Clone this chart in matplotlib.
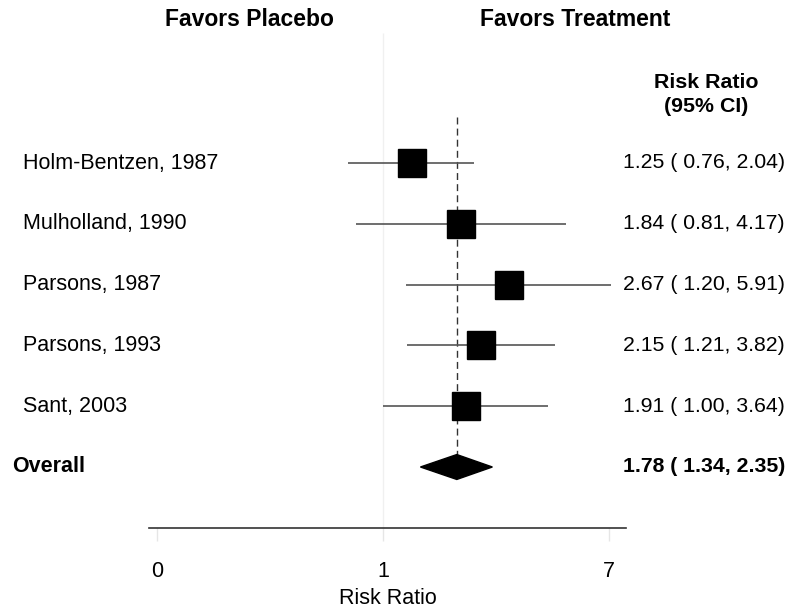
import matplotlib
matplotlib.use("Agg")
import matplotlib.pyplot as plt
import numpy as np

plt.rcParams['font.family'] = ['Liberation Sans', 'DejaVu Sans']

# ---- data ----
studies = ["Holm-Bentzen, 1987", "Mulholland, 1990", "Parsons, 1987", "Parsons, 1993", "Sant, 2003"]
rr = [1.25, 1.84, 2.67, 2.15, 1.91]
lo = [0.76, 0.81, 1.20, 1.21, 1.00]
hi = [2.04, 4.17, 5.91, 3.82, 3.64]
overall_label = "Overall"
overall_rr = 1.78
overall_lo = 1.34
overall_hi = 2.35
tick_vals = [0.171, 1.0, 5.85]
tick_labels = ["0", "1", "7"]

W, H = 800, 615
fig = plt.figure(figsize=(W / 100, H / 100), dpi=100)

# axes spans x pixels 149..626, full height
ax = fig.add_axes([149 / W, 0, (626 - 149) / W, 1])
ax.set_xscale('log')
ax.set_xlim(0.161, 6.67)
row0_px, row_px = 163, 60.8
ax.set_ylim((H - row0_px) / row_px, -row0_px / row_px)
ax.patch.set_visible(False)

# reference line at 1
ax.vlines(1.0, (33 - row0_px) / row_px, 6, color='#f0f0f0', lw=1, zorder=0)

# dashed overall line
dh = 0.205
ax.vlines(overall_rr, (117 - row0_px) / row_px, len(studies) - dh,
          color='#333333', lw=1, linestyles=(0, (5, 3)), zorder=1)

n = len(studies)
ys = np.arange(n)
ax.hlines(ys, lo, hi, color='#555555', lw=1.2, zorder=2)
ax.plot(rr, ys, 's', color='black', markersize=20, zorder=3)

# diamond
yd = n
ax.fill([overall_lo, overall_rr, overall_hi, overall_rr],
        [yd, yd - dh, yd, yd + dh], color='black', zorder=3)

# axis styling
for s in ['top', 'left', 'right']:
    ax.spines[s].set_visible(False)
ax.spines['bottom'].set_position(('data', 6))
ax.spines['bottom'].set_color('#333333')
ax.spines['bottom'].set_linewidth(1.2)
ax.set_yticks([])
ax.xaxis.set_minor_locator(matplotlib.ticker.NullLocator())
ax.set_xticks(tick_vals)
ax.set_xticklabels(tick_labels, fontsize=15.5)
ax.tick_params(axis='x', direction='out', length=9, color='#e6e6e6', width=1, pad=15)
ax.set_xlabel("Risk Ratio", fontsize=15.5, labelpad=4)

fs = 15.5
# text columns
for i, s in enumerate(studies):
    ypx = row0_px + i * row_px
    fig.text(23 / W, 1 - ypx / H, s, fontsize=fs, ha='left', va='center')
    fig.text(785 / W, 1 - ypx / H, f"{rr[i]:.2f} ( {lo[i]:.2f}, {hi[i]:.2f})",
             fontsize=15.3, ha='right', va='center')
ypx = row0_px + n * row_px
fig.text(12 / W, 1 - ypx / H, overall_label, fontsize=fs, fontweight='bold',
         ha='left', va='center')
fig.text(785 / W, 1 - ypx / H,
         f"{overall_rr:.2f} ( {overall_lo:.2f}, {overall_hi:.2f})",
         fontsize=15.3, fontweight='bold', ha='right', va='center')

fig.text(249 / W, 1 - 19 / H, "Favors Placebo", fontsize=16.5, fontweight='bold',
         ha='center', va='center')
fig.text(575 / W, 1 - 19 / H, "Favors Treatment", fontsize=16.5, fontweight='bold',
         ha='center', va='center')
fig.text(706 / W, 1 - 82 / H, "Risk Ratio", fontsize=15.4, fontweight='bold',
         ha='center', va='center')
fig.text(706 / W, 1 - 106 / H, "(95% CI)", fontsize=15.4, fontweight='bold',
         ha='center', va='center')

fig.savefig("out.png", dpi=100)
